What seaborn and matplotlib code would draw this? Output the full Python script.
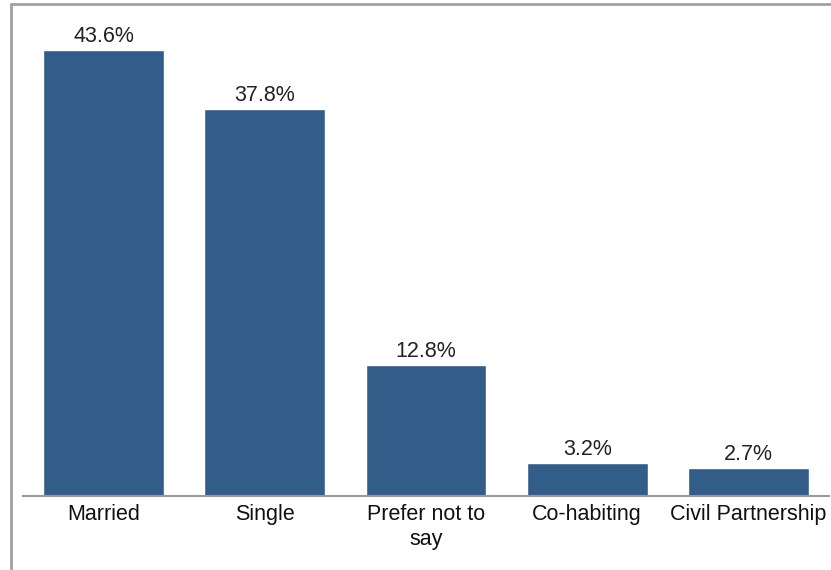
import matplotlib
matplotlib.use('Agg')
import pandas as pd
import seaborn as sns
import matplotlib.pyplot as plt
from matplotlib.lines import Line2D

categories = ['Married', 'Single', 'Prefer not to\nsay', 'Co-habiting', 'Civil Partnership']
shares = [43.6, 37.8, 12.8, 3.2, 2.7]
share_labels = ['43.6%', '37.8%', '12.8%', '3.2%', '2.7%']

sns.set_style('white')
plt.rcParams['font.family'] = ['Liberation Sans', 'DejaVu Sans']

df = pd.DataFrame({'status': categories, 'share': shares})

fig = plt.figure(figsize=(8.31, 5.70), dpi=100)
ax = fig.add_axes([23 / 831, 74 / 570, 806 / 831, 491 / 570])

sns.barplot(data=df, x='status', y='share', color='#335d89', width=0.75,
            saturation=1, ax=ax)

for i, (v, lab) in enumerate(zip(shares, share_labels)):
    ax.text(i, v + 0.3, lab, ha='center', va='bottom', fontsize=15.5, color='#222222')

ax.set_xlim(-0.5, 4.5)
ax.set_ylim(0, 48)
ax.set_xlabel('')
ax.set_ylabel('')
ax.set_yticks([])
for s in ['top', 'right', 'left']:
    ax.spines[s].set_visible(False)
ax.spines['bottom'].set_color('#9a9a9a')
ax.spines['bottom'].set_linewidth(1.5)
ax.tick_params(axis='x', length=0, labelsize=15.5, pad=6, colors='#111111')
for t in ax.get_xticklabels():
    t.set_linespacing(1.25)

# faint separators under the axis line
ax.set_xticks([0.5, 1.5, 2.5, 3.5], minor=True)
ax.tick_params(axis='x', which='minor', length=5, color='#e6e6e6', width=1)

# screenshot frame (left and top border)
fig.add_artist(Line2D([11 / 831, 11 / 831], [0, 1 - 4 / 570], color='#a0a0a0', lw=2,
                      transform=fig.transFigure))
fig.add_artist(Line2D([11 / 831, 1], [1 - 4 / 570, 1 - 4 / 570], color='#a0a0a0', lw=2,
                      transform=fig.transFigure))

fig.savefig('out.png', dpi=100)
